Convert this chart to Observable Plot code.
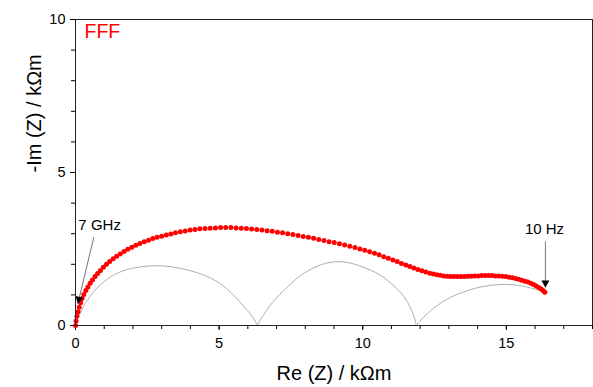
<!DOCTYPE html>
<html>
<head>
<meta charset="utf-8">
<script src="https://cdn.jsdelivr.net/npm/d3@7"></script>
<script src="https://cdn.jsdelivr.net/npm/@observablehq/plot@0.6"></script>
<style>
  html, body { margin: 0; padding: 0; background: #fff; }
  #chart svg { display: block; }
</style>
</head>
<body>
<div id="chart"></div>
<script>
// Measured impedance (red dots), Re Z and -Im Z in kΩm
const measX = [0,0.02,0.05,0.09,0.13,0.18,0.23,0.29,0.36,0.43,0.51,0.59,0.68,0.77,0.87,0.97,1.08,1.19,1.31,1.43,1.56,1.69,1.82,1.96,2.10,2.24,2.39,2.54,2.69,2.84,3.00,3.16,3.32,3.48,3.65,3.82,3.99,4.16,4.33,4.51,4.69,4.87,5.05,5.23,5.41,5.59,5.77,5.95,6.13,6.31,6.49,6.67,6.85,7.03,7.21,7.39,7.57,7.75,7.93,8.11,8.29,8.47,8.65,8.83,9.01,9.19,9.37,9.55,9.73,9.90,10.07,10.24,10.41,10.57,10.73,10.89,11.05,11.20,11.35,11.50,11.64,11.78,11.92,12.06,12.20,12.34,12.46,12.58,12.70,12.82,12.94,13.06,13.18,13.30,13.42,13.54,13.66,13.78,13.90,14.02,14.14,14.26,14.38,14.50,14.62,14.74,14.86,14.98,15.10,15.21,15.32,15.43,15.54,15.65,15.75,15.85,15.95,16.04,16.13,16.21,16.28,16.34];
const measY = [0,0.15,0.30,0.45,0.60,0.74,0.88,1.01,1.14,1.26,1.38,1.49,1.60,1.70,1.80,1.90,2.00,2.09,2.18,2.26,2.34,2.42,2.49,2.56,2.62,2.68,2.74,2.79,2.84,2.88,2.92,2.96,2.99,3.03,3.06,3.09,3.12,3.14,3.16,3.17,3.18,3.19,3.20,3.20,3.20,3.19,3.18,3.17,3.15,3.14,3.12,3.10,3.08,3.05,3.03,3.00,2.97,2.94,2.91,2.88,2.85,2.81,2.78,2.74,2.71,2.67,2.63,2.59,2.55,2.50,2.46,2.41,2.36,2.31,2.25,2.20,2.14,2.09,2.03,1.98,1.93,1.88,1.83,1.79,1.75,1.71,1.68,1.66,1.64,1.62,1.61,1.60,1.60,1.60,1.60,1.60,1.61,1.61,1.62,1.62,1.63,1.63,1.63,1.63,1.62,1.62,1.61,1.60,1.58,1.56,1.54,1.51,1.48,1.45,1.42,1.38,1.34,1.29,1.24,1.19,1.14,1.09];

// Fitted arcs (gray line)
const arc1X = [0,0.05,0.17,0.41,0.64,0.93,1.22,1.51,1.80,2.09,2.38,2.67,2.96,3.25,3.54,3.83,4.12,4.41,4.70,4.99,5.28,5.57,5.86,6.10,6.25,6.33];
const arc1Y = [0,0.20,0.42,0.82,1.12,1.38,1.59,1.73,1.83,1.89,1.93,1.95,1.95,1.93,1.89,1.83,1.76,1.67,1.55,1.40,1.19,0.93,0.62,0.36,0.16,0];
const arc2X = [6.33,6.42,6.55,6.75,7.00,7.25,7.54,7.83,8.12,8.42,8.71,9.00,9.29,9.57,9.86,10.16,10.45,10.73,11.02,11.32,11.55,11.72,11.82,11.86];
const arc2Y = [0,0.16,0.35,0.62,0.90,1.14,1.40,1.63,1.80,1.94,2.03,2.08,2.08,2.04,1.96,1.85,1.73,1.57,1.35,1.08,0.78,0.46,0.20,0];
const arc3X = [11.86,11.98,12.13,12.30,12.48,12.77,13.06,13.35,13.64,13.93,14.22,14.51,14.80,15.09,15.38,15.67,15.96,16.15,16.33];
const arc3Y = [0,0.13,0.28,0.43,0.57,0.77,0.92,1.04,1.14,1.22,1.28,1.32,1.34,1.34,1.31,1.27,1.20,1.15,1.09];

// Ticks
const xMajorTicks = [0, 5, 10, 15];
const xMinorTicks = [0,1,2,3,4,5,6,7,8,9,10,11,12,13,14,15,16,17,18];
const yMajorTicks = [0, 5, 10];
const yMinorTicks = [0,1,2,3,4,5,6,7,8,9,10];

// Labels and annotations
const seriesLabel = "FFF";
const xTitle = "Re (Z) / kΩm";
const yTitle = "-Im (Z) / kΩm";
const annoText = ["7 GHz", "10 Hz"];
const annoTextX = [0.10, 16.33];
const annoTextY = [3.27, 3.14];
const arrowFromX = [0.64, 16.36];
const arrowFromY = [2.89, 2.75];
const arrowToX = [0.08, 16.36];
const arrowToY = [0.71, 1.24];

const meas = measX.map((x, i) => ({x, y: measY[i]}));
const fit = [
  ...arc1X.map((x, i) => ({x, y: arc1Y[i], arc: 1})),
  ...arc2X.map((x, i) => ({x, y: arc2Y[i], arc: 2})),
  ...arc3X.map((x, i) => ({x, y: arc3Y[i], arc: 3}))
];
const arrows = arrowFromX.map((x1, i) => ({x1, y1: arrowFromY[i], x2: arrowToX[i], y2: arrowToY[i]}));
const annos = annoText.map((t, i) => ({t, x: annoTextX[i], y: annoTextY[i]}));

const font = "'Liberation Sans', Arial, Helvetica, sans-serif";

const chart = Plot.plot({
  width: 593,
  height: 387,
  marginLeft: 75,
  marginRight: 1,
  marginTop: 19,
  marginBottom: 62,
  x: {domain: [0, 18]},
  y: {domain: [0, 10]},
  style: {fontFamily: font, fontSize: "14.5px", color: "#000", background: "#fff"},
  marks: [
    Plot.axisX({ticks: xMinorTicks, tickSize: 4, tickFormat: () => "", label: null}),
    Plot.axisX({ticks: xMajorTicks, tickSize: 5, tickPadding: 7, tickFormat: d => String(d), label: null, fontSize: 14.5}),
    Plot.axisY({ticks: yMinorTicks, tickSize: 4, tickFormat: () => "", label: null}),
    Plot.axisY({ticks: yMajorTicks, tickSize: 5, tickPadding: 5, tickFormat: d => String(d), label: null, fontSize: 14.5}),
    Plot.line(fit, {x: "x", y: "y", z: "arc", stroke: "#999", strokeWidth: 0.8, curve: "catmull-rom"}),
    Plot.dot(meas, {x: "x", y: "y", r: 2.5, fill: "#ff0000", stroke: "none"}),
    Plot.link(arrows, {x1: "x1", y1: "y1", x2: "x2", y2: "y2", stroke: "#777", strokeWidth: 1}),
    Plot.dot([arrows[0]], {x: "x2", y: "y2", symbol: "triangle", r: 3, fill: "#000", stroke: "none", rotate: 193.5, dx: 1.1, dy: -4.6}),
    Plot.dot([arrows[1]], {x: "x2", y: "y2", symbol: "triangle", r: 3, fill: "#000", stroke: "none", rotate: 180, dy: -4.7}),
    Plot.text([annos[0]], {x: "x", y: "y", text: "t", textAnchor: "start", lineAnchor: "middle", fontSize: 15, fill: "#000"}),
    Plot.text([annos[1]], {x: "x", y: "y", text: "t", textAnchor: "middle", lineAnchor: "middle", fontSize: 15, fill: "#000"}),
    Plot.text([seriesLabel], {frameAnchor: "top-left", text: d => d, dx: 9, dy: 12, lineAnchor: "middle", textAnchor: "start", fontSize: 19.5, fill: "#ff0000"}),
    Plot.text([xTitle], {frameAnchor: "bottom", text: d => d, dy: 48, lineAnchor: "middle", fontSize: 20, fill: "#000"}),
    Plot.text([yTitle], {frameAnchor: "left", text: d => d, dx: -41, rotate: -90, lineAnchor: "middle", fontSize: 20, fill: "#000"}),
    Plot.frame({stroke: "#222", strokeWidth: 1})
  ]
});
document.getElementById("chart").appendChild(chart);
</script>
</body>
</html>
